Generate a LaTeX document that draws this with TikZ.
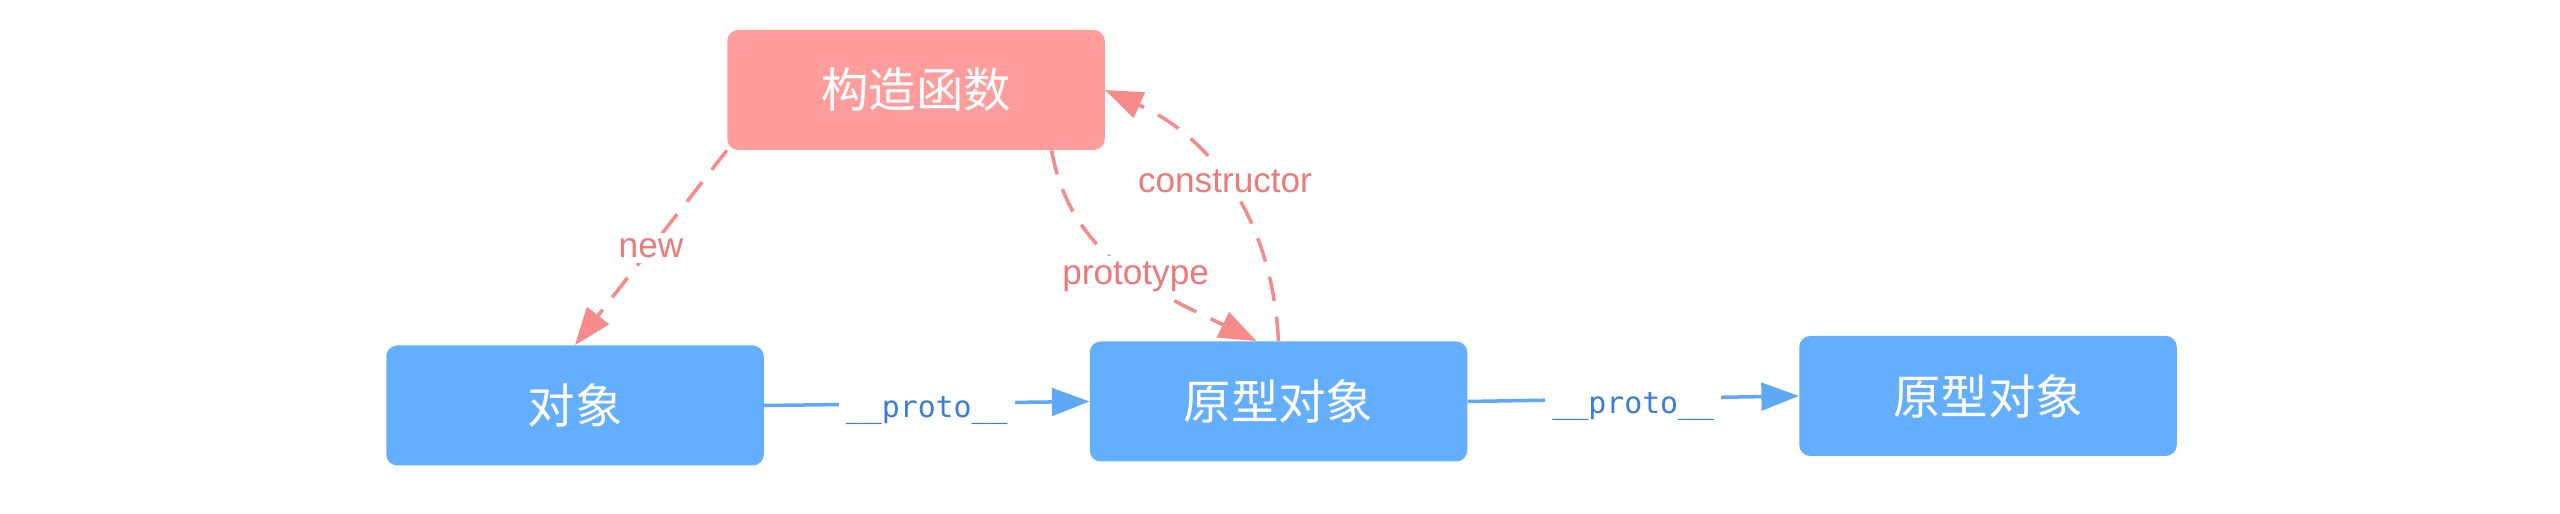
\documentclass[tikz,border=0pt]{standalone}
\usepackage{fontspec}
\usetikzlibrary{arrows.meta}
\newfontfamily\cjk{Noto Sans CJK SC}
\newfontfamily\lblfont{Liberation Sans}
\newfontfamily\codefont{DejaVu Sans Mono}
\definecolor{boxpink}{HTML}{FF9C9C}
\definecolor{linepink}{HTML}{F78A8A}
\definecolor{textpink}{HTML}{EC7A7A}
\definecolor{boxblue}{HTML}{64AEFF}
\definecolor{lineblue}{HTML}{5EA8F7}
\definecolor{textblue}{HTML}{3B7ED8}
\begin{document}
\begin{tikzpicture}[
  box/.style={rounded corners=0.22cm, minimum width=7.55cm, minimum height=2.4cm, inner sep=0pt, text=white, font=\cjk\fontsize{27}{32}\selectfont},
  pinkbox/.style={box, fill=boxpink},
  bluebox/.style={box, fill=boxblue},
  pinkarrow/.style={draw=linepink, line width=2pt, dash pattern=on 14pt off 9pt, -{Triangle[length=0.75cm, width=0.55cm]}},
  bluearrow/.style={draw=lineblue, line width=2pt, -{Triangle[length=0.75cm, width=0.55cm]}},
  pinklabel/.style={fill=white, text=textpink, inner sep=3pt, font=\lblfont\fontsize{20}{24}\selectfont},
  bluelabel/.style={fill=white, text=textblue, inner xsep=4pt, inner ysep=3pt, yshift=-0.15cm, font=\codefont\fontsize{17}{20}\selectfont}
]
\useasboundingbox (0,0) rectangle (51.2,10.28);

\node[pinkbox] (ctor) at (18.32,8.48) {构造函数};
\node[bluebox] (obj) at (11.50,2.17) {对象};
\node[bluebox] (protoa) at (25.57,2.25) {原型对象};
\node[bluebox] (protob) at (39.76,2.36) {原型对象};

\draw[pinkarrow] (ctor.south west) -- node[pinklabel] {new} (obj.north);
\draw[pinkarrow] (ctor.-24) to[out=-80, in=154] node[pinklabel, pos=0.55] {prototype} (protoa.110);
\draw[pinkarrow] (protoa.north) to[out=93, in=-24] node[pinklabel, pos=0.53] {constructor} (ctor.east);

\draw[bluearrow] (obj.east) -- node[bluelabel] {\_\_proto\_\_} (protoa.west);
\draw[bluearrow] (protoa.east) -- node[bluelabel] {\_\_proto\_\_} (protob.west);
\end{tikzpicture}
\end{document}
